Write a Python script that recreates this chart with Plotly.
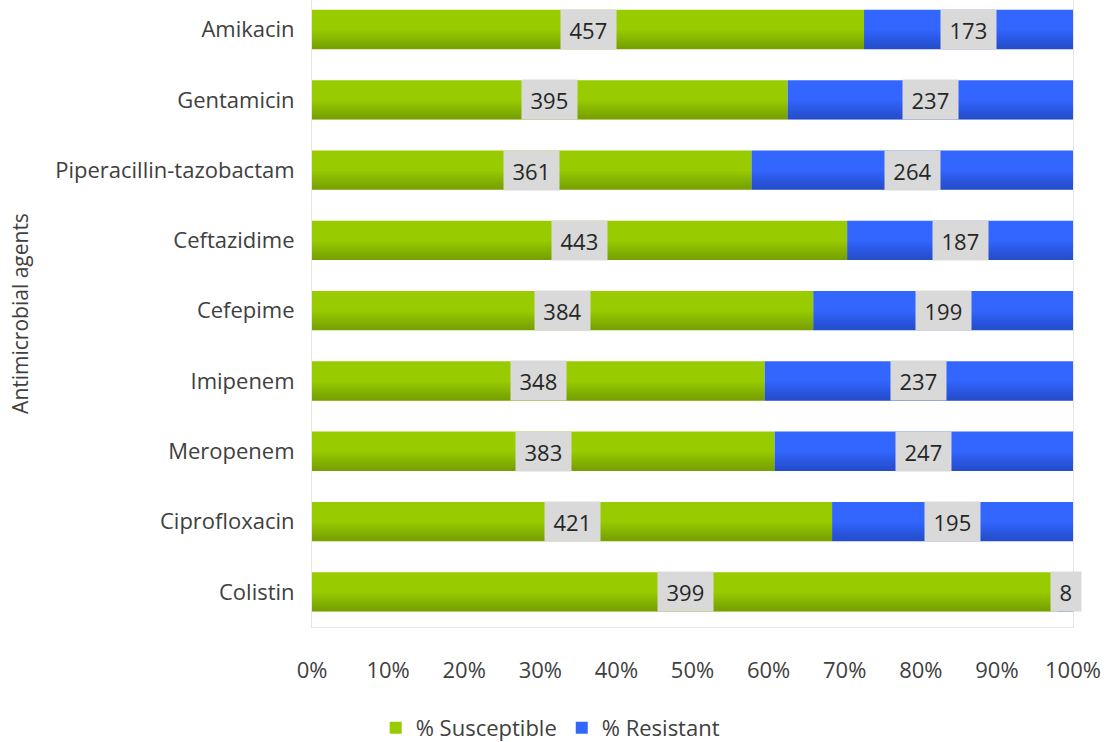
import plotly.graph_objects as go

drugs = ["Amikacin", "Gentamicin", "Piperacillin-tazobactam", "Ceftazidime",
         "Cefepime", "Imipenem", "Meropenem", "Ciprofloxacin", "Colistin"]
susceptible = [457, 395, 361, 443, 384, 348, 383, 421, 399]
resistant = [173, 237, 264, 187, 199, 237, 247, 195, 8]
x_ticks = [0, 10, 20, 30, 40, 50, 60, 70, 80, 90, 100]

totals = [s + r for s, r in zip(susceptible, resistant)]
pct_s = [100 * s / t for s, t in zip(susceptible, totals)]
pct_r = [100 * r / t for r, t in zip(resistant, totals)]
pct_tot = [a + b for a, b in zip(pct_s, pct_r)]

FONT = "Open Sans"
TXT = "#404040"
BW = 0.56

fig = go.Figure()
fig.add_trace(go.Bar(y=drugs, x=pct_s, base=[0] * len(drugs), orientation="h",
                     name="% Susceptible", marker=dict(color="#99CC00", line=dict(width=0)),
                     width=BW, offset=-BW / 2))
fig.add_trace(go.Bar(y=drugs, x=pct_r, base=pct_s, orientation="h",
                     name="% Resistant", marker=dict(color="#3366FF", line=dict(width=0)),
                     width=BW, offset=-BW / 2))

# subtle vertical gradient (darker toward the bottom of each bar)
N = 9
for k in range(1, N + 1):
    frac = 0.48 * k / N
    fig.add_trace(go.Bar(y=drugs, x=pct_tot, base=[0] * len(drugs), orientation="h",
                         marker=dict(color="rgba(0,0,0,0.024)", line=dict(width=0)),
                         width=BW * frac, offset=-BW / 2, showlegend=False,
                         hoverinfo="skip"))

annotations = []
for d, s, r, ps, pr in zip(drugs, susceptible, resistant, pct_s, pct_r):
    for val, center in ((s, ps / 2), (r, ps + pr / 2)):
        txt = str(val)
        annotations.append(dict(x=center, y=d, xref="x", yref="y", text=txt,
                                showarrow=False, bgcolor="#D9D9D9",
                                width=len(txt) * 12.6 + 15, height=37,
                                font=dict(family=FONT, size=22, color="#262626")))

fig.update_layout(
    width=1106, height=742,
    barmode="overlay",
    paper_bgcolor="white", plot_bgcolor="white",
    margin=dict(l=312, r=33, t=0, b=115, autoexpand=False),
    font=dict(family=FONT, size=22, color=TXT),
    annotations=annotations,
    showlegend=True,
    legend=dict(orientation="h", x=0.313, xanchor="center",
                yref="container", y=0.019, yanchor="middle",
                font=dict(family=FONT, size=22, color=TXT), traceorder="normal",
                itemwidth=30),
    xaxis=dict(range=[0, 100], tickvals=x_ticks,
               ticktext=[f"{v}%" for v in x_ticks],
               showgrid=False, zeroline=False, showline=True, linecolor="#E6E6E6",
               linewidth=1, mirror=True, ticks="outside", ticklen=24,
               tickcolor="rgba(0,0,0,0)",
               tickfont=dict(family=FONT, size=22, color=TXT)),
    yaxis=dict(categoryorder="array", categoryarray=drugs[::-1],
               range=[-0.5, 8.42], showgrid=False, zeroline=False,
               showline=True, linecolor="#E6E6E6", linewidth=1, mirror=True,
               ticks="outside", ticklen=12, tickcolor="rgba(0,0,0,0)",
               tickfont=dict(family=FONT, size=22, color=TXT),
               title=dict(text="Antimicrobial agents", standoff=20,
                          font=dict(family=FONT, size=21, color=TXT))),
)

fig.write_html("out.html")
